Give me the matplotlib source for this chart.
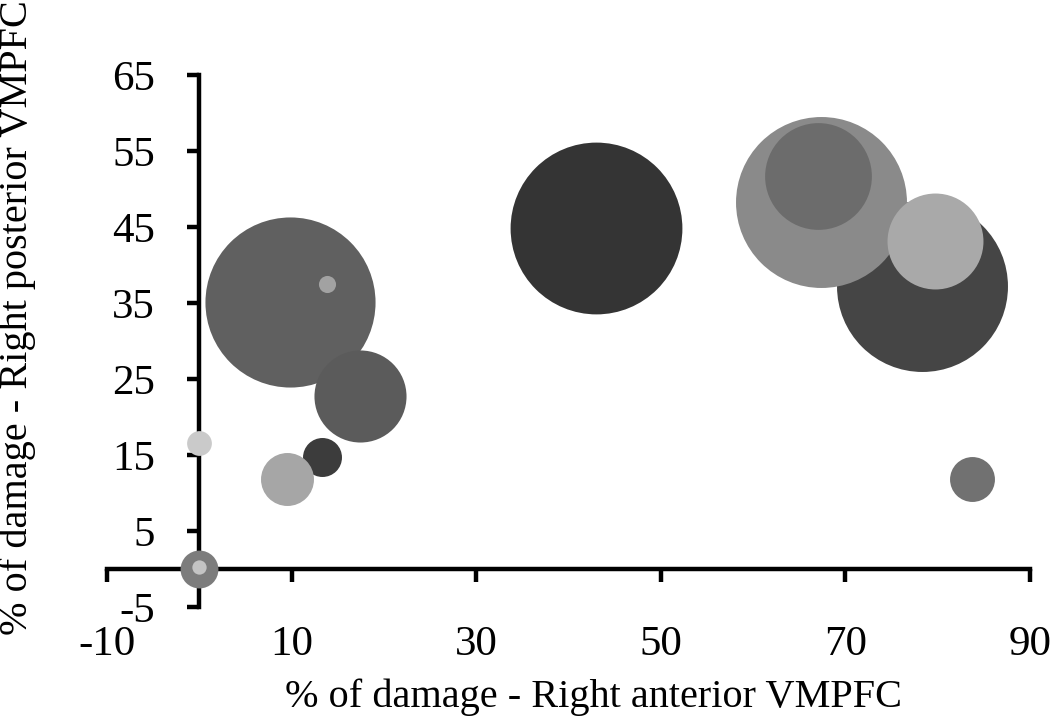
import matplotlib.pyplot as plt

# bubble data: x = right anterior damage, y = right posterior damage, size = bubble value
x_vals = [9.8, 13.8, 17.4, 13.3, 9.5, 0.0, 0.0, 0.0, 43.0, 78.3, 67.4, 67.0, 79.7, 83.7]
y_vals = [35.1, 37.5, 22.8, 14.7, 11.9, 16.6, 0.0, 0.2, 44.9, 37.2, 48.3, 51.7, 43.2, 11.8]
sizes = [99, 1.0, 29, 5.2, 9.6, 2.1, 4.9, 0.7, 101, 100, 100, 39, 31.5, 6.9]
grays = ['#606060', '#a2a2a2', '#5b5b5b', '#3c3c3c', '#a6a6a6', '#cacaca', '#7c7c7c',
         '#c4c4c4', '#343434', '#454545', '#8a8a8a', '#6c6c6c', '#a9a9a9', '#717171']

x_ticks = [-10, 10, 30, 50, 70, 90]
y_ticks = [-5, 5, 15, 25, 35, 45, 55, 65]

plt.rcParams['font.family'] = ['Liberation Serif', 'DejaVu Serif']
plt.rcParams['axes.unicode_minus'] = False

fig = plt.figure(figsize=(10.5, 7.21), dpi=100)
ax = fig.add_axes([0.1019, 0.1581, 0.879, 0.7379])

# size value -> marker area (points^2)
scale = 151.5
for xv, yv, sv, c in zip(x_vals, y_vals, sizes, grays):
    ax.scatter(xv, yv, s=sv * scale, color=c, linewidths=0, zorder=3, clip_on=False)

ax.set_xlim(-10, 90)
ax.set_ylim(-5, 65)
ax.set_xticks(x_ticks)
ax.set_yticks(y_ticks)

ax.spines['left'].set_position(('data', 0))
ax.spines['bottom'].set_position(('data', 0))
ax.spines['top'].set_visible(False)
ax.spines['right'].set_visible(False)
for sp in ['left', 'bottom']:
    ax.spines[sp].set_linewidth(3.2)
    ax.spines[sp].set_zorder(2)

ax.tick_params(axis='x', direction='out', length=9, width=3.2, pad=32, labelsize=31)
ax.tick_params(axis='y', direction='out', length=9, width=3.2, pad=23, labelsize=31)

fig.text(0.5657, 0.0194, '% of damage - Right anterior VMPFC', ha='center', va='baseline',
         fontsize=29)
fig.text(0.016, 0.559, '% of damage - Right posterior VMPFC', ha='center', va='center',
         rotation=90, fontsize=29)

fig.savefig('out.png', dpi=100)
